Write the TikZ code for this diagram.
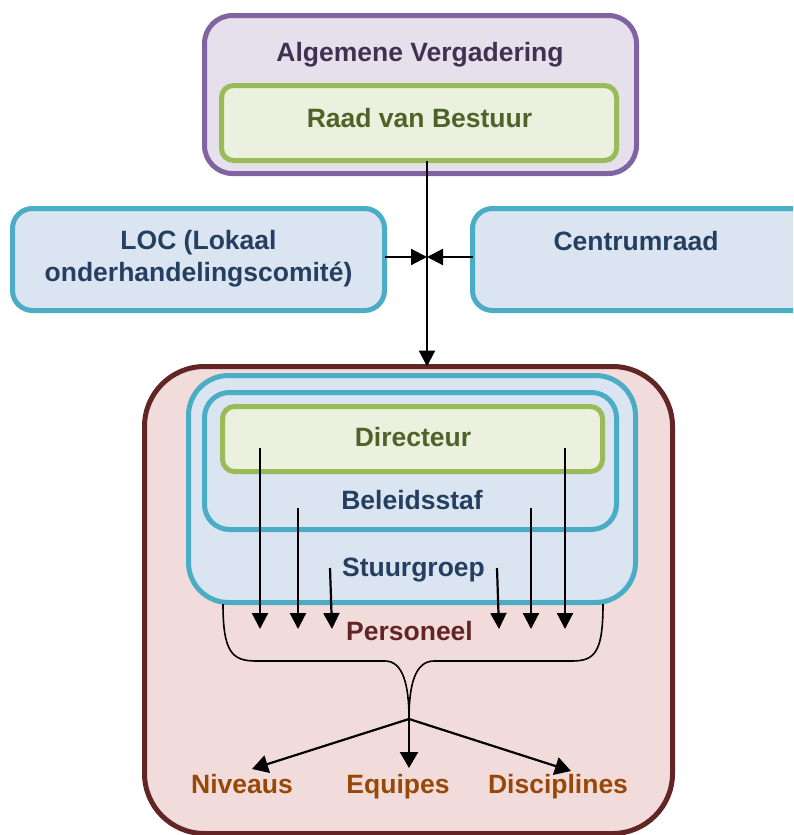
\documentclass[tikz,border=0pt]{standalone}
\usepackage{fontspec}
\setmainfont{Liberation Sans}
\usetikzlibrary{arrows.meta}

\definecolor{purpleline}{HTML}{8064A2}
\definecolor{purplefill}{HTML}{E5E0EC}
\definecolor{purpletext}{HTML}{403152}
\definecolor{greenline}{HTML}{9BBB59}
\definecolor{greenfill}{HTML}{EBF1DE}
\definecolor{greentext}{HTML}{4F6228}
\definecolor{blueline}{HTML}{4BACC6}
\definecolor{bluefill}{HTML}{DBE5F1}
\definecolor{bluetext}{HTML}{243F60}
\definecolor{brownline}{HTML}{632523}
\definecolor{brownfill}{HTML}{F2DCDB}
\definecolor{orangetext}{HTML}{984806}

\begin{document}
\begin{tikzpicture}[x=1pt,y=-1pt,
  frame/.style={line width=5pt, inner sep=0pt, outer sep=0pt},
  purplebox/.style={frame, draw=purpleline, fill=purplefill},
  greenbox/.style={frame, draw=greenline, fill=greenfill},
  bluebox/.style={frame, draw=blueline, fill=bluefill},
  brownbox/.style={frame, draw=brownline, fill=brownfill},
  lbl/.style={font=\fontsize{26.5}{32}\selectfont\bfseries, inner sep=0pt, anchor=base},
  arr/.style={line width=2.2pt, -{Triangle[length=16pt,width=16pt]}},
  widearr/.style={line width=2.2pt, -{Triangle[length=16pt,width=18pt]}},
  bracket/.style={line width=1.6pt}
]
\useasboundingbox (0,0) rectangle (793,835);
\clip (0,0) rectangle (793,835);

% top: general assembly with the board inside
\node[purplebox, rounded corners=28pt, minimum width=432pt, minimum height=158pt] (av) at (420.5,94.5) {};
\node[greenbox, rounded corners=12pt, minimum width=395pt, minimum height=75pt] (rvb) at (419,123) {};
\node[lbl, text=purpletext] (avtxt) at (420,61) {Algemene Vergadering};
\node[lbl, text=greentext] (rvbtxt) at (419.5,127) {Raad van Bestuur};

% side councils
\node[bluebox, rounded corners=20pt, minimum width=372pt, minimum height=102pt] (loc) at (198.5,259.5) {};
\node[bluebox, rounded corners=20pt, minimum width=355pt, minimum height=102pt] (cr) at (650,259.5) {};
\node[lbl, text=bluetext, anchor=center, align=center] (loctxt) at (198.5,259) {LOC (Lokaal\\onderhandelingscomit\'e)};
\node[lbl, text=bluetext] (crtxt) at (636,250) {Centrumraad};

% school: staff with steering group, policy staff and director
\node[brownbox, rounded corners=60pt, minimum width=528pt, minimum height=467pt] (pers) at (408.5,600) {};
\node[bluebox, rounded corners=40pt, minimum width=447pt, minimum height=227pt] (sg) at (412,489) {};
\node[bluebox, rounded corners=25pt, minimum width=412pt, minimum height=137pt] (bs) at (410.5,461) {};
\node[greenbox, rounded corners=12pt, minimum width=380pt, minimum height=65pt] (dir) at (412.5,439) {};
\node[lbl, text=greentext] (dirtxt) at (413,446) {Directeur};
\node[lbl, text=bluetext] (bstxt) at (412,509) {Beleidsstaf};
\node[lbl, text=bluetext] (sgtxt) at (413.5,576) {Stuurgroep};
\node[lbl, text=brownline] (perstxt) at (409.5,640) {Personeel};
\node[lbl, text=orangetext] (niv) at (242,793) {Niveaus};
\node[lbl, text=orangetext] (equ) at (398,793) {Equipes};
\node[lbl, text=orangetext] (dis) at (558,793) {Disciplines};

% connectors between the top and the school
\coordinate (vtop) at (427,161);
\coordinate (mid) at (427,257);
\draw[arr] (vtop) -- (vtop |- pers.north);
\draw[arr] (loc.east |- mid) -- (mid);
\draw[arr] (cr.west |- mid) -- (mid);

% arrows from director, policy staff and steering group down to the staff
\coordinate (d1) at (260,448);
\coordinate (b1) at (298,508);
\coordinate (g1) at (330,568);
\coordinate (g2) at (497,568);
\coordinate (b2) at (531,508);
\coordinate (d2) at (565,448);
\draw[arr] (d1) -- (260,629);
\draw[arr] (b1) -- (298,629);
\draw[arr] (g1) -- (332,629);
\draw[arr] (g2) -- (499,629);
\draw[arr] (b2) -- (531,629);
\draw[arr] (d2) -- (565,629);

% bracket gathering the staff
\coordinate (brl) at (223,604);
\coordinate (brr) at (603,604);
\coordinate (apex) at (409,719);
\draw[bracket] (brl) .. controls (223,652) and (232,661) .. (256,661) -- (385,661)
  .. controls (403,661) and (409,685) .. (apex)
  .. controls (409,685) and (415,661) .. (434,661) -- (572,661)
  .. controls (595,661) and (603,652) .. (brr);

% split into levels, teams and disciplines
\coordinate (tn) at (252,769);
\coordinate (te) at (409,768);
\coordinate (td) at (571,771);
\draw[widearr] (apex) -- (tn);
\draw[widearr] (apex) -- (te);
\draw[widearr] (apex) -- (td);
\end{tikzpicture}
\end{document}
